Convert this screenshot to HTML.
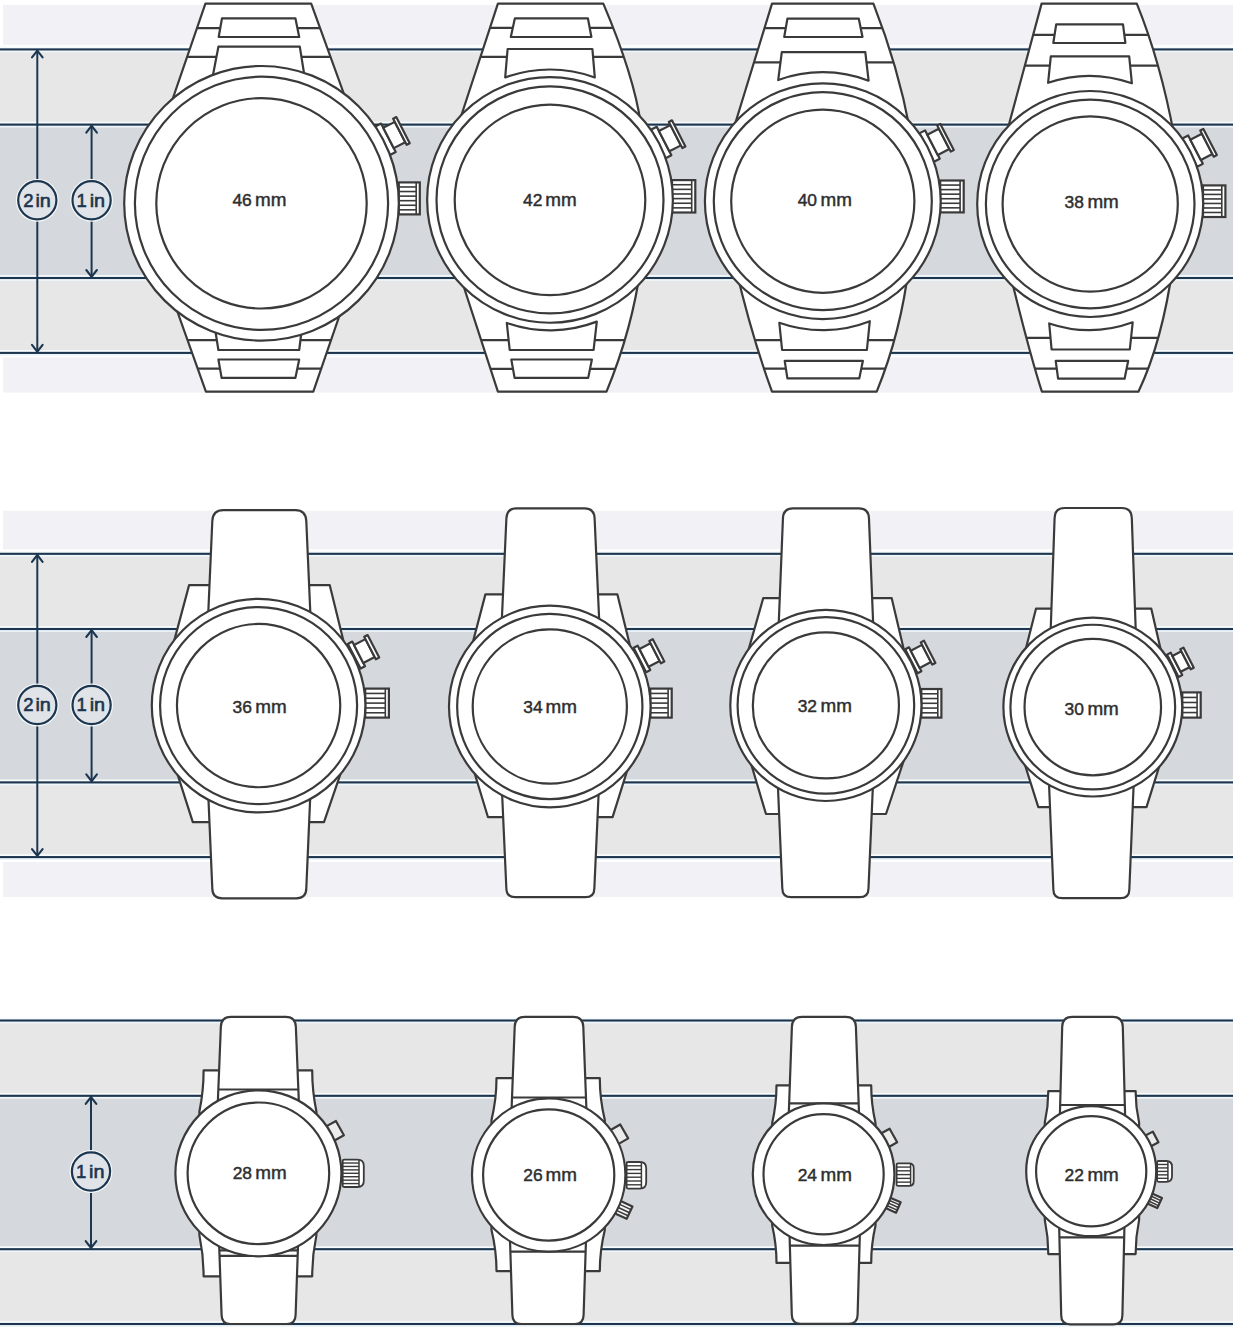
<!DOCTYPE html>
<html><head><meta charset="utf-8"><style>
html,body{margin:0;padding:0;background:#fff;width:1233px;height:1328px;overflow:hidden}
svg{display:block}
</style></head><body>
<svg width="1233" height="1328" viewBox="0 0 1233 1328">
<rect width="1233" height="1328" fill="#fff"/>
<rect x="3" y="4.9" width="1230" height="40" fill="#f2f1f5"/>
<rect x="3" y="357.5" width="1230" height="35.1" fill="#f2f1f5"/>
<rect x="0" y="49.4" width="1233" height="75.2" fill="#e7e7e7"/>
<rect x="0" y="124.6" width="1233" height="153.4" fill="#d5d8dd"/>
<rect x="0" y="278" width="1233" height="74.9" fill="#e7e7e7"/>
<rect x="0" y="46.5" width="1233" height="1.85" fill="#f7fbfc"/>
<rect x="0" y="50.45" width="1233" height="1.85" fill="#eef6fa"/>
<rect x="0" y="48.35" width="1233" height="2.1" fill="#1c3650"/>
<rect x="0" y="121.7" width="1233" height="1.85" fill="#f7fbfc"/>
<rect x="0" y="125.65" width="1233" height="1.85" fill="#eef6fa"/>
<rect x="0" y="123.55" width="1233" height="2.1" fill="#1c3650"/>
<rect x="0" y="275.1" width="1233" height="1.85" fill="#f7fbfc"/>
<rect x="0" y="279.05" width="1233" height="1.85" fill="#eef6fa"/>
<rect x="0" y="276.95" width="1233" height="2.1" fill="#1c3650"/>
<rect x="0" y="350" width="1233" height="1.85" fill="#f7fbfc"/>
<rect x="0" y="353.95" width="1233" height="1.85" fill="#eef6fa"/>
<rect x="0" y="351.85" width="1233" height="2.1" fill="#1c3650"/>
<rect x="3" y="510.8" width="1230" height="38.5" fill="#f2f1f5"/>
<rect x="3" y="862" width="1230" height="35" fill="#f2f1f5"/>
<rect x="0" y="553.8" width="1233" height="75.2" fill="#e7e7e7"/>
<rect x="0" y="629" width="1233" height="153.4" fill="#d5d8dd"/>
<rect x="0" y="782.4" width="1233" height="74.7" fill="#e7e7e7"/>
<rect x="0" y="550.9" width="1233" height="1.85" fill="#f7fbfc"/>
<rect x="0" y="554.85" width="1233" height="1.85" fill="#eef6fa"/>
<rect x="0" y="552.75" width="1233" height="2.1" fill="#1c3650"/>
<rect x="0" y="626.1" width="1233" height="1.85" fill="#f7fbfc"/>
<rect x="0" y="630.05" width="1233" height="1.85" fill="#eef6fa"/>
<rect x="0" y="627.95" width="1233" height="2.1" fill="#1c3650"/>
<rect x="0" y="779.5" width="1233" height="1.85" fill="#f7fbfc"/>
<rect x="0" y="783.45" width="1233" height="1.85" fill="#eef6fa"/>
<rect x="0" y="781.35" width="1233" height="2.1" fill="#1c3650"/>
<rect x="0" y="854.2" width="1233" height="1.85" fill="#f7fbfc"/>
<rect x="0" y="858.15" width="1233" height="1.85" fill="#eef6fa"/>
<rect x="0" y="856.05" width="1233" height="2.1" fill="#1c3650"/>
<rect x="0" y="1020.5" width="1233" height="75.3" fill="#e7e7e7"/>
<rect x="0" y="1095.8" width="1233" height="153.4" fill="#d5d8dd"/>
<rect x="0" y="1249.2" width="1233" height="74.8" fill="#e7e7e7"/>
<rect x="0" y="1017.6" width="1233" height="1.85" fill="#f7fbfc"/>
<rect x="0" y="1021.55" width="1233" height="1.85" fill="#eef6fa"/>
<rect x="0" y="1019.45" width="1233" height="2.1" fill="#1c3650"/>
<rect x="0" y="1092.9" width="1233" height="1.85" fill="#f7fbfc"/>
<rect x="0" y="1096.85" width="1233" height="1.85" fill="#eef6fa"/>
<rect x="0" y="1094.75" width="1233" height="2.1" fill="#1c3650"/>
<rect x="0" y="1246.3" width="1233" height="1.85" fill="#f7fbfc"/>
<rect x="0" y="1250.25" width="1233" height="1.85" fill="#eef6fa"/>
<rect x="0" y="1248.15" width="1233" height="2.1" fill="#1c3650"/>
<rect x="0" y="1321.1" width="1233" height="1.85" fill="#f7fbfc"/>
<rect x="0" y="1325.05" width="1233" height="1.85" fill="#eef6fa"/>
<rect x="0" y="1322.95" width="1233" height="2.1" fill="#1c3650"/>
<line x1="37.3" y1="49.4" x2="37.3" y2="352.9" stroke="#1c3650" stroke-width="2"/>
<polyline points="32,57.4 37.3,50.6 42.6,57.4" fill="none" stroke="#1c3650" stroke-width="2.1" stroke-linecap="round"/>
<polyline points="32,344.9 37.3,351.7 42.6,344.9" fill="none" stroke="#1c3650" stroke-width="2.1" stroke-linecap="round"/>
<circle cx="37.3" cy="200.3" r="21.4" fill="#f8fafb"/>
<circle cx="37.3" cy="200.3" r="19.1" fill="#e0e3e7" stroke="#1c3650" stroke-width="2.2"/>
<text x="23.2" y="206.7" font-family="Liberation Sans" font-size="18.5" fill="#1b3550" stroke="#1b3550" stroke-width="0.6">2</text>
<text x="50.8" y="206.7" text-anchor="end" font-family="Liberation Sans" font-size="18.5" fill="#1b3550" stroke="#1b3550" stroke-width="0.6" textLength="15.4" lengthAdjust="spacingAndGlyphs">in</text>
<line x1="91.6" y1="124.6" x2="91.6" y2="278" stroke="#1c3650" stroke-width="2"/>
<polyline points="86.3,132.6 91.6,125.8 96.9,132.6" fill="none" stroke="#1c3650" stroke-width="2.1" stroke-linecap="round"/>
<polyline points="86.3,270 91.6,276.8 96.9,270" fill="none" stroke="#1c3650" stroke-width="2.1" stroke-linecap="round"/>
<circle cx="91.6" cy="200.3" r="21.4" fill="#f8fafb"/>
<circle cx="91.6" cy="200.3" r="19.1" fill="#e0e3e7" stroke="#1c3650" stroke-width="2.2"/>
<text x="76.6" y="206.7" font-family="Liberation Sans" font-size="18.5" fill="#1b3550" stroke="#1b3550" stroke-width="0.6">1</text>
<text x="105.1" y="206.7" text-anchor="end" font-family="Liberation Sans" font-size="18.5" fill="#1b3550" stroke="#1b3550" stroke-width="0.6" textLength="15.4" lengthAdjust="spacingAndGlyphs">in</text>
<line x1="37.3" y1="553.8" x2="37.3" y2="857.1" stroke="#1c3650" stroke-width="2"/>
<polyline points="32,561.8 37.3,555 42.6,561.8" fill="none" stroke="#1c3650" stroke-width="2.1" stroke-linecap="round"/>
<polyline points="32,849.1 37.3,855.9 42.6,849.1" fill="none" stroke="#1c3650" stroke-width="2.1" stroke-linecap="round"/>
<circle cx="37.3" cy="705" r="21.4" fill="#f8fafb"/>
<circle cx="37.3" cy="705" r="19.1" fill="#e0e3e7" stroke="#1c3650" stroke-width="2.2"/>
<text x="23.2" y="711.4" font-family="Liberation Sans" font-size="18.5" fill="#1b3550" stroke="#1b3550" stroke-width="0.6">2</text>
<text x="50.8" y="711.4" text-anchor="end" font-family="Liberation Sans" font-size="18.5" fill="#1b3550" stroke="#1b3550" stroke-width="0.6" textLength="15.4" lengthAdjust="spacingAndGlyphs">in</text>
<line x1="91.6" y1="629" x2="91.6" y2="782.4" stroke="#1c3650" stroke-width="2"/>
<polyline points="86.3,637 91.6,630.2 96.9,637" fill="none" stroke="#1c3650" stroke-width="2.1" stroke-linecap="round"/>
<polyline points="86.3,774.4 91.6,781.2 96.9,774.4" fill="none" stroke="#1c3650" stroke-width="2.1" stroke-linecap="round"/>
<circle cx="91.6" cy="705" r="21.4" fill="#f8fafb"/>
<circle cx="91.6" cy="705" r="19.1" fill="#e0e3e7" stroke="#1c3650" stroke-width="2.2"/>
<text x="76.6" y="711.4" font-family="Liberation Sans" font-size="18.5" fill="#1b3550" stroke="#1b3550" stroke-width="0.6">1</text>
<text x="105.1" y="711.4" text-anchor="end" font-family="Liberation Sans" font-size="18.5" fill="#1b3550" stroke="#1b3550" stroke-width="0.6" textLength="15.4" lengthAdjust="spacingAndGlyphs">in</text>
<line x1="91" y1="1095.8" x2="91" y2="1249.2" stroke="#1c3650" stroke-width="2"/>
<polyline points="85.7,1103.8 91,1097 96.3,1103.8" fill="none" stroke="#1c3650" stroke-width="2.1" stroke-linecap="round"/>
<polyline points="85.7,1241.2 91,1248 96.3,1241.2" fill="none" stroke="#1c3650" stroke-width="2.1" stroke-linecap="round"/>
<circle cx="91" cy="1171.5" r="21.4" fill="#f8fafb"/>
<circle cx="91" cy="1171.5" r="19.1" fill="#e0e3e7" stroke="#1c3650" stroke-width="2.2"/>
<text x="76" y="1177.9" font-family="Liberation Sans" font-size="18.5" fill="#1b3550" stroke="#1b3550" stroke-width="0.6">1</text>
<text x="104.5" y="1177.9" text-anchor="end" font-family="Liberation Sans" font-size="18.5" fill="#1b3550" stroke="#1b3550" stroke-width="0.6" textLength="15.4" lengthAdjust="spacingAndGlyphs">in</text>
<clipPath id="cp1"><path d="M205.4,3.6 L311.2,3.6 L357,130 L162,130 Z"/></clipPath>
<path d="M205.4,3.6 L311.2,3.6 L357,130 L162,130 Z" fill="#fff" stroke="#3a3a3a" stroke-width="2.2" stroke-linejoin="round"/>
<g clip-path="url(#cp1)"><line x1="0" y1="28.1" x2="1233" y2="28.1" stroke="#3a3a3a" stroke-width="2.2"/><line x1="0" y1="56.8" x2="1233" y2="56.8" stroke="#3a3a3a" stroke-width="2.2"/></g>
<path d="M222,18.3 L295.4,18.3 L299.2,37 L218.7,37 Z" fill="#fff" stroke="#3a3a3a" stroke-width="2.2" stroke-linejoin="round"/>
<path d="M218.4,46.7 L299.8,46.7 L306.7,90 L210.1,90 Z" fill="#fff" stroke="#3a3a3a" stroke-width="2.2" stroke-linejoin="round"/>
<clipPath id="cp2"><path d="M205.9,391.7 L313.3,391.7 L351.7,280 L166.1,280 Z"/></clipPath>
<path d="M205.9,391.7 L313.3,391.7 L351.7,280 L166.1,280 Z" fill="#fff" stroke="#3a3a3a" stroke-width="2.2" stroke-linejoin="round"/>
<g clip-path="url(#cp2)"><line x1="0" y1="340.1" x2="1233" y2="340.1" stroke="#3a3a3a" stroke-width="2.2"/><line x1="0" y1="368.6" x2="1233" y2="368.6" stroke="#3a3a3a" stroke-width="2.2"/></g>
<path d="M212.8,315 L303.6,315 L299.2,350 L218.4,350 Z" fill="#fff" stroke="#3a3a3a" stroke-width="2.2" stroke-linejoin="round"/>
<path d="M218.4,359.5 L299.2,359.5 L295.4,377.9 L221.6,377.9 Z" fill="#fff" stroke="#3a3a3a" stroke-width="2.2" stroke-linejoin="round"/>
<path d="M375.28,126.57 L381.06,123.59 L395.73,152.02 L389.96,155 Z" fill="#fff" stroke="#3a3a3a" stroke-width="2.2" stroke-linejoin="round"/>
<path d="M383.26,127.85 L394.81,121.89 L405.27,142.15 L393.71,148.11 Z" fill="#fff" stroke="#3a3a3a" stroke-width="2.2" stroke-linejoin="round"/>
<path d="M393.16,118.69 L396.27,117.09 L409.75,143.21 L406.64,144.82 Z" fill="#fff" stroke="#3a3a3a" stroke-width="2.2" stroke-linejoin="round"/>
<rect x="398.8" y="182.4" width="21" height="32" fill="#fff" stroke="#3a3a3a" stroke-width="2.2"/>
<line x1="416.2" y1="182.4" x2="416.2" y2="214.4" stroke="#3a3a3a" stroke-width="1.6"/>
<line x1="398.8" y1="186.97" x2="416.2" y2="186.97" stroke="#3a3a3a" stroke-width="1.6"/>
<line x1="398.8" y1="191.54" x2="416.2" y2="191.54" stroke="#3a3a3a" stroke-width="1.6"/>
<line x1="398.8" y1="196.11" x2="416.2" y2="196.11" stroke="#3a3a3a" stroke-width="1.6"/>
<line x1="398.8" y1="200.69" x2="416.2" y2="200.69" stroke="#3a3a3a" stroke-width="1.6"/>
<line x1="398.8" y1="205.26" x2="416.2" y2="205.26" stroke="#3a3a3a" stroke-width="1.6"/>
<line x1="398.8" y1="209.83" x2="416.2" y2="209.83" stroke="#3a3a3a" stroke-width="1.6"/>
<circle cx="261.5" cy="203.3" r="137.3" fill="#fff" stroke="#3a3a3a" stroke-width="2.2"/>
<circle cx="261.5" cy="203.3" r="126.6" fill="#fff" stroke="#3a3a3a" stroke-width="2.2"/>
<circle cx="261.5" cy="203.3" r="105.2" fill="#fff" stroke="#3a3a3a" stroke-width="2.2"/>
<text x="232.4" y="205.7" font-family="Liberation Sans" font-size="17.4" fill="#2e2e2e" stroke="#2e2e2e" stroke-width="0.45">46</text>
<text x="286.4" y="205.7" text-anchor="end" font-family="Liberation Sans" font-size="18.2" fill="#2e2e2e" stroke="#2e2e2e" stroke-width="0.45" textLength="31.4" lengthAdjust="spacingAndGlyphs">mm</text>
<clipPath id="cp3"><path d="M497.9,3.6 L603.3,3.6 Q634,75.7 641,125 L458.2,125 Z"/></clipPath>
<path d="M497.9,3.6 L603.3,3.6 Q634,75.7 641,125 L458.2,125 Z" fill="#fff" stroke="#3a3a3a" stroke-width="2.2" stroke-linejoin="round"/>
<g clip-path="url(#cp3)"><line x1="0" y1="27.9" x2="1233" y2="27.9" stroke="#3a3a3a" stroke-width="2.2"/><line x1="0" y1="56.8" x2="1233" y2="56.8" stroke="#3a3a3a" stroke-width="2.2"/></g>
<path d="M514.9,18.3 L587.9,18.3 L591.4,37 L510.8,37 Z" fill="#fff" stroke="#3a3a3a" stroke-width="2.2" stroke-linejoin="round"/>
<path d="M507.6,49 L592.4,49 L594.8,77.44 A130.4,130.4 0 0 0 505.2,77.44 Z" fill="#fff" stroke="#3a3a3a" stroke-width="2.2" stroke-linejoin="round"/>
<clipPath id="cp4"><path d="M497.9,391.7 L606.5,391.7 Q632.3,329.2 641,265 L456.7,265 Z"/></clipPath>
<path d="M497.9,391.7 L606.5,391.7 Q632.3,329.2 641,265 L456.7,265 Z" fill="#fff" stroke="#3a3a3a" stroke-width="2.2" stroke-linejoin="round"/>
<g clip-path="url(#cp4)"><line x1="0" y1="340.1" x2="1233" y2="340.1" stroke="#3a3a3a" stroke-width="2.2"/><line x1="0" y1="368.9" x2="1233" y2="368.9" stroke="#3a3a3a" stroke-width="2.2"/></g>
<path d="M506.8,322.94 A130.4,130.4 0 0 0 596.8,321.61 L593.6,350 L509.7,350 Z" fill="#fff" stroke="#3a3a3a" stroke-width="2.2" stroke-linejoin="round"/>
<path d="M511.3,359.5 L591.9,359.5 L588.2,377.9 L514.6,377.9 Z" fill="#fff" stroke="#3a3a3a" stroke-width="2.2" stroke-linejoin="round"/>
<path d="M650.94,129.8 L656.72,126.81 L671.39,155.25 L665.62,158.23 Z" fill="#fff" stroke="#3a3a3a" stroke-width="2.2" stroke-linejoin="round"/>
<path d="M658.92,131.08 L670.47,125.12 L680.93,145.38 L669.37,151.34 Z" fill="#fff" stroke="#3a3a3a" stroke-width="2.2" stroke-linejoin="round"/>
<path d="M668.82,121.92 L671.93,120.31 L685.41,146.44 L682.3,148.04 Z" fill="#fff" stroke="#3a3a3a" stroke-width="2.2" stroke-linejoin="round"/>
<rect x="672" y="180.1" width="23.3" height="32.4" fill="#fff" stroke="#3a3a3a" stroke-width="2.2"/>
<line x1="691.7" y1="180.1" x2="691.7" y2="212.5" stroke="#3a3a3a" stroke-width="1.6"/>
<line x1="672" y1="184.73" x2="691.7" y2="184.73" stroke="#3a3a3a" stroke-width="1.6"/>
<line x1="672" y1="189.36" x2="691.7" y2="189.36" stroke="#3a3a3a" stroke-width="1.6"/>
<line x1="672" y1="193.99" x2="691.7" y2="193.99" stroke="#3a3a3a" stroke-width="1.6"/>
<line x1="672" y1="198.61" x2="691.7" y2="198.61" stroke="#3a3a3a" stroke-width="1.6"/>
<line x1="672" y1="203.24" x2="691.7" y2="203.24" stroke="#3a3a3a" stroke-width="1.6"/>
<line x1="672" y1="207.87" x2="691.7" y2="207.87" stroke="#3a3a3a" stroke-width="1.6"/>
<circle cx="550" cy="199.9" r="122.85" fill="#fff" stroke="#3a3a3a" stroke-width="2.2"/>
<circle cx="550" cy="199.9" r="113.5" fill="#fff" stroke="#3a3a3a" stroke-width="2.2"/>
<circle cx="550" cy="199.9" r="95.3" fill="#fff" stroke="#3a3a3a" stroke-width="2.2"/>
<text x="523" y="205.7" font-family="Liberation Sans" font-size="17.4" fill="#2e2e2e" stroke="#2e2e2e" stroke-width="0.45">42</text>
<text x="576.7" y="205.7" text-anchor="end" font-family="Liberation Sans" font-size="18.2" fill="#2e2e2e" stroke="#2e2e2e" stroke-width="0.45" textLength="31.4" lengthAdjust="spacingAndGlyphs">mm</text>
<clipPath id="cp5"><path d="M772,3.6 L873.4,3.6 Q898.3,67.2 910,130 L733.2,130 Z"/></clipPath>
<path d="M772,3.6 L873.4,3.6 Q898.3,67.2 910,130 L733.2,130 Z" fill="#fff" stroke="#3a3a3a" stroke-width="2.2" stroke-linejoin="round"/>
<g clip-path="url(#cp5)"><line x1="0" y1="28.1" x2="1233" y2="28.1" stroke="#3a3a3a" stroke-width="2.2"/><line x1="0" y1="62.4" x2="1233" y2="62.4" stroke="#3a3a3a" stroke-width="2.2"/></g>
<path d="M787.4,18.7 L858.8,18.7 L862.5,37 L784.2,37 Z" fill="#fff" stroke="#3a3a3a" stroke-width="2.2" stroke-linejoin="round"/>
<path d="M781.8,52.2 L865.3,52.2 L868.6,80.72 A129,129 0 0 0 778.2,80.05 Z" fill="#fff" stroke="#3a3a3a" stroke-width="2.2" stroke-linejoin="round"/>
<clipPath id="cp6"><path d="M772,391.7 L876.7,391.7 Q901.1,331.7 909,265 L735,265 Q751.5,335.7 772,391.7 Z"/></clipPath>
<path d="M772,391.7 L876.7,391.7 Q901.1,331.7 909,265 L735,265 Q751.5,335.7 772,391.7 Z" fill="#fff" stroke="#3a3a3a" stroke-width="2.2" stroke-linejoin="round"/>
<g clip-path="url(#cp6)"><line x1="0" y1="340.1" x2="1233" y2="340.1" stroke="#3a3a3a" stroke-width="2.2"/><line x1="0" y1="368.6" x2="1233" y2="368.6" stroke="#3a3a3a" stroke-width="2.2"/></g>
<path d="M779.3,322.75 A129,129 0 0 0 869.8,321.22 L866.9,350 L782.1,350 Z" fill="#fff" stroke="#3a3a3a" stroke-width="2.2" stroke-linejoin="round"/>
<path d="M784.7,360.8 L862.9,360.8 L859.3,378.4 L787.4,378.4 Z" fill="#fff" stroke="#3a3a3a" stroke-width="2.2" stroke-linejoin="round"/>
<path d="M919.34,133.37 L925.12,130.38 L939.79,158.82 L934.02,161.8 Z" fill="#fff" stroke="#3a3a3a" stroke-width="2.2" stroke-linejoin="round"/>
<path d="M927.32,134.65 L938.87,128.69 L949.33,148.95 L937.78,154.91 Z" fill="#fff" stroke="#3a3a3a" stroke-width="2.2" stroke-linejoin="round"/>
<path d="M937.22,125.49 L940.33,123.88 L953.81,150.01 L950.7,151.61 Z" fill="#fff" stroke="#3a3a3a" stroke-width="2.2" stroke-linejoin="round"/>
<rect x="940.2" y="180.5" width="23.5" height="31.9" fill="#fff" stroke="#3a3a3a" stroke-width="2.2"/>
<line x1="960.1" y1="180.5" x2="960.1" y2="212.4" stroke="#3a3a3a" stroke-width="1.6"/>
<line x1="940.2" y1="185.06" x2="960.1" y2="185.06" stroke="#3a3a3a" stroke-width="1.6"/>
<line x1="940.2" y1="189.61" x2="960.1" y2="189.61" stroke="#3a3a3a" stroke-width="1.6"/>
<line x1="940.2" y1="194.17" x2="960.1" y2="194.17" stroke="#3a3a3a" stroke-width="1.6"/>
<line x1="940.2" y1="198.73" x2="960.1" y2="198.73" stroke="#3a3a3a" stroke-width="1.6"/>
<line x1="940.2" y1="203.29" x2="960.1" y2="203.29" stroke="#3a3a3a" stroke-width="1.6"/>
<line x1="940.2" y1="207.84" x2="960.1" y2="207.84" stroke="#3a3a3a" stroke-width="1.6"/>
<circle cx="822.8" cy="201.2" r="117.9" fill="#fff" stroke="#3a3a3a" stroke-width="2.2"/>
<circle cx="822.8" cy="201.2" r="109" fill="#fff" stroke="#3a3a3a" stroke-width="2.2"/>
<circle cx="822.8" cy="201.2" r="91.6" fill="#fff" stroke="#3a3a3a" stroke-width="2.2"/>
<text x="797.7" y="205.8" font-family="Liberation Sans" font-size="17.4" fill="#2e2e2e" stroke="#2e2e2e" stroke-width="0.45">40</text>
<text x="852" y="205.8" text-anchor="end" font-family="Liberation Sans" font-size="18.2" fill="#2e2e2e" stroke="#2e2e2e" stroke-width="0.45" textLength="31.4" lengthAdjust="spacingAndGlyphs">mm</text>
<clipPath id="cp7"><path d="M1041.6,3.6 L1136.8,3.6 Q1160.5,62 1174,135 L1006.1,135 Z"/></clipPath>
<path d="M1041.6,3.6 L1136.8,3.6 Q1160.5,62 1174,135 L1006.1,135 Z" fill="#fff" stroke="#3a3a3a" stroke-width="2.2" stroke-linejoin="round"/>
<g clip-path="url(#cp7)"><line x1="0" y1="34.9" x2="1233" y2="34.9" stroke="#3a3a3a" stroke-width="2.2"/><line x1="0" y1="65.7" x2="1233" y2="65.7" stroke="#3a3a3a" stroke-width="2.2"/></g>
<path d="M1056.2,24.3 L1123,24.3 L1125.4,43 L1053.3,43 Z" fill="#fff" stroke="#3a3a3a" stroke-width="2.2" stroke-linejoin="round"/>
<path d="M1050.8,56.4 L1129.2,56.4 L1131.9,83.3 A128,128 0 0 0 1048.1,82.81 Z" fill="#fff" stroke="#3a3a3a" stroke-width="2.2" stroke-linejoin="round"/>
<clipPath id="cp8"><path d="M1041.9,391.7 L1138.4,391.7 Q1162.3,341.7 1173,265 L1008,265 Q1029,351.7 1041.9,391.7 Z"/></clipPath>
<path d="M1041.9,391.7 L1138.4,391.7 Q1162.3,341.7 1173,265 L1008,265 Q1029,351.7 1041.9,391.7 Z" fill="#fff" stroke="#3a3a3a" stroke-width="2.2" stroke-linejoin="round"/>
<g clip-path="url(#cp8)"><line x1="0" y1="337.8" x2="1233" y2="337.8" stroke="#3a3a3a" stroke-width="2.2"/><line x1="0" y1="368.6" x2="1233" y2="368.6" stroke="#3a3a3a" stroke-width="2.2"/></g>
<path d="M1049.2,323.45 A126,126 0 0 0 1132.7,322.29 L1129.8,349.5 L1051.6,349.5 Z" fill="#fff" stroke="#3a3a3a" stroke-width="2.2" stroke-linejoin="round"/>
<path d="M1055.7,360.8 L1128.2,360.8 L1124.6,378.7 L1058.1,378.7 Z" fill="#fff" stroke="#3a3a3a" stroke-width="2.2" stroke-linejoin="round"/>
<path d="M1182.39,138.41 L1188.16,135.43 L1202.84,163.87 L1197.06,166.85 Z" fill="#fff" stroke="#3a3a3a" stroke-width="2.2" stroke-linejoin="round"/>
<path d="M1190.36,139.7 L1201.92,133.74 L1212.37,154 L1200.82,159.96 Z" fill="#fff" stroke="#3a3a3a" stroke-width="2.2" stroke-linejoin="round"/>
<path d="M1200.27,130.54 L1203.38,128.93 L1216.86,155.06 L1213.75,156.66 Z" fill="#fff" stroke="#3a3a3a" stroke-width="2.2" stroke-linejoin="round"/>
<rect x="1203" y="185.4" width="22.4" height="31.6" fill="#fff" stroke="#3a3a3a" stroke-width="2.2"/>
<line x1="1221.8" y1="185.4" x2="1221.8" y2="217" stroke="#3a3a3a" stroke-width="1.6"/>
<line x1="1203" y1="189.91" x2="1221.8" y2="189.91" stroke="#3a3a3a" stroke-width="1.6"/>
<line x1="1203" y1="194.43" x2="1221.8" y2="194.43" stroke="#3a3a3a" stroke-width="1.6"/>
<line x1="1203" y1="198.94" x2="1221.8" y2="198.94" stroke="#3a3a3a" stroke-width="1.6"/>
<line x1="1203" y1="203.46" x2="1221.8" y2="203.46" stroke="#3a3a3a" stroke-width="1.6"/>
<line x1="1203" y1="207.97" x2="1221.8" y2="207.97" stroke="#3a3a3a" stroke-width="1.6"/>
<line x1="1203" y1="212.49" x2="1221.8" y2="212.49" stroke="#3a3a3a" stroke-width="1.6"/>
<circle cx="1090.2" cy="204" r="113" fill="#fff" stroke="#3a3a3a" stroke-width="2.2"/>
<circle cx="1090.2" cy="204" r="104.3" fill="#fff" stroke="#3a3a3a" stroke-width="2.2"/>
<circle cx="1090.2" cy="204" r="87.6" fill="#fff" stroke="#3a3a3a" stroke-width="2.2"/>
<text x="1064.6" y="207.8" font-family="Liberation Sans" font-size="17.4" fill="#2e2e2e" stroke="#2e2e2e" stroke-width="0.45">38</text>
<text x="1118.8" y="207.8" text-anchor="end" font-family="Liberation Sans" font-size="18.2" fill="#2e2e2e" stroke="#2e2e2e" stroke-width="0.45" textLength="31.4" lengthAdjust="spacingAndGlyphs">mm</text>
<path d="M189.1,585.1 L329.7,585.1 L359.34,705.6 L363.84,705.6 L324,822.1 L192.8,822.1 L155.52,705.6 L156.81,705.6 Z" fill="#fff" stroke="#3a3a3a" stroke-width="2.2" stroke-linejoin="round"/>
<path d="M207.79,623.8 L212.3,521.2 Q212.78,510.2 223.3,510.2 L295.3,510.2 Q305.82,510.2 306.3,521.2 L310.81,623.8 Z" fill="#fff" stroke="#3a3a3a" stroke-width="2.2" stroke-linejoin="round"/>
<path d="M207.96,787.4 L212.3,888.3 Q212.3,898.3 222.3,898.3 L296.3,898.3 Q306.3,898.3 306.3,888.3 L310.64,787.4 Z" fill="#fff" stroke="#3a3a3a" stroke-width="2.2" stroke-linejoin="round"/>
<path d="M347.84,643.9 L352.28,641.6 L365.03,666.31 L360.59,668.6 Z" fill="#fff" stroke="#3a3a3a" stroke-width="2.2" stroke-linejoin="round"/>
<path d="M354.03,644.98 L365.4,639.11 L374.66,657.06 L363.29,662.93 Z" fill="#fff" stroke="#3a3a3a" stroke-width="2.2" stroke-linejoin="round"/>
<path d="M364.23,636.84 L367.61,635.1 L379.21,657.58 L375.83,659.33 Z" fill="#fff" stroke="#3a3a3a" stroke-width="2.2" stroke-linejoin="round"/>
<rect x="365.2" y="688.6" width="23.7" height="29" fill="#fff" stroke="#3a3a3a" stroke-width="2.2"/>
<line x1="385.3" y1="688.6" x2="385.3" y2="717.6" stroke="#3a3a3a" stroke-width="1.6"/>
<line x1="365.2" y1="693.43" x2="385.3" y2="693.43" stroke="#3a3a3a" stroke-width="1.6"/>
<line x1="365.2" y1="698.27" x2="385.3" y2="698.27" stroke="#3a3a3a" stroke-width="1.6"/>
<line x1="365.2" y1="703.1" x2="385.3" y2="703.1" stroke="#3a3a3a" stroke-width="1.6"/>
<line x1="365.2" y1="707.93" x2="385.3" y2="707.93" stroke="#3a3a3a" stroke-width="1.6"/>
<line x1="365.2" y1="712.77" x2="385.3" y2="712.77" stroke="#3a3a3a" stroke-width="1.6"/>
<circle cx="258.6" cy="705.6" r="106.8" fill="#fff" stroke="#3a3a3a" stroke-width="2.2"/>
<circle cx="258.6" cy="705.6" r="98.5" fill="#fff" stroke="#3a3a3a" stroke-width="2.2"/>
<circle cx="258.6" cy="705.6" r="81.65" fill="#fff" stroke="#3a3a3a" stroke-width="2.2"/>
<text x="232.6" y="713.4" font-family="Liberation Sans" font-size="17.4" fill="#2e2e2e" stroke="#2e2e2e" stroke-width="0.45">36</text>
<text x="286.6" y="713.4" text-anchor="end" font-family="Liberation Sans" font-size="18.2" fill="#2e2e2e" stroke="#2e2e2e" stroke-width="0.45" textLength="31.4" lengthAdjust="spacingAndGlyphs">mm</text>
<path d="M485.4,594.4 L617.4,594.4 L644.98,706.5 L647.25,706.5 L612.6,817.2 L488,817.2 L454.35,706.5 L456.03,706.5 Z" fill="#fff" stroke="#3a3a3a" stroke-width="2.2" stroke-linejoin="round"/>
<path d="M501.34,630.7 L506.4,518.3 Q506.85,508.3 516.4,508.3 L584.6,508.3 Q594.15,508.3 594.6,518.3 L599.66,630.7 Z" fill="#fff" stroke="#3a3a3a" stroke-width="2.2" stroke-linejoin="round"/>
<path d="M501.58,782.3 L506.35,888.2 Q506.35,897.2 515.35,897.2 L585.35,897.2 Q594.35,897.2 594.35,888.2 L599.12,782.3 Z" fill="#fff" stroke="#3a3a3a" stroke-width="2.2" stroke-linejoin="round"/>
<path d="M633.62,647.82 L637.71,645.71 L650.28,670.06 L646.19,672.17 Z" fill="#fff" stroke="#3a3a3a" stroke-width="2.2" stroke-linejoin="round"/>
<path d="M639.45,649.09 L650.56,643.35 L659.64,660.95 L648.53,666.68 Z" fill="#fff" stroke="#3a3a3a" stroke-width="2.2" stroke-linejoin="round"/>
<path d="M649.32,640.95 L652.79,639.16 L664.35,661.56 L660.88,663.35 Z" fill="#fff" stroke="#3a3a3a" stroke-width="2.2" stroke-linejoin="round"/>
<rect x="650.3" y="688.6" width="21.4" height="29" fill="#fff" stroke="#3a3a3a" stroke-width="2.2"/>
<line x1="668.1" y1="688.6" x2="668.1" y2="717.6" stroke="#3a3a3a" stroke-width="1.6"/>
<line x1="650.3" y1="693.43" x2="668.1" y2="693.43" stroke="#3a3a3a" stroke-width="1.6"/>
<line x1="650.3" y1="698.27" x2="668.1" y2="698.27" stroke="#3a3a3a" stroke-width="1.6"/>
<line x1="650.3" y1="703.1" x2="668.1" y2="703.1" stroke="#3a3a3a" stroke-width="1.6"/>
<line x1="650.3" y1="707.93" x2="668.1" y2="707.93" stroke="#3a3a3a" stroke-width="1.6"/>
<line x1="650.3" y1="712.77" x2="668.1" y2="712.77" stroke="#3a3a3a" stroke-width="1.6"/>
<circle cx="549.8" cy="706.5" r="100.8" fill="#fff" stroke="#3a3a3a" stroke-width="2.2"/>
<circle cx="549.8" cy="706.5" r="92.65" fill="#fff" stroke="#3a3a3a" stroke-width="2.2"/>
<circle cx="549.8" cy="706.5" r="77.1" fill="#fff" stroke="#3a3a3a" stroke-width="2.2"/>
<text x="523.3" y="713.4" font-family="Liberation Sans" font-size="17.4" fill="#2e2e2e" stroke="#2e2e2e" stroke-width="0.45">34</text>
<text x="577" y="713.4" text-anchor="end" font-family="Liberation Sans" font-size="18.2" fill="#2e2e2e" stroke="#2e2e2e" stroke-width="0.45" textLength="31.4" lengthAdjust="spacingAndGlyphs">mm</text>
<path d="M763.2,598.2 L891.7,598.2 L917,705.4 L922.06,705.4 L886,814 L766,814 L733.75,705.4 L732.65,705.4 Z" fill="#fff" stroke="#3a3a3a" stroke-width="2.2" stroke-linejoin="round"/>
<path d="M778.29,634.8 L782.95,518.3 Q783.35,508.3 792.95,508.3 L858.95,508.3 Q868.55,508.3 868.95,518.3 L873.61,634.8 Z" fill="#fff" stroke="#3a3a3a" stroke-width="2.2" stroke-linejoin="round"/>
<path d="M777.48,776 L782.3,888.2 Q782.3,897.2 791.3,897.2 L859.5,897.2 Q868.5,897.2 868.5,888.2 L873.32,776 Z" fill="#fff" stroke="#3a3a3a" stroke-width="2.2" stroke-linejoin="round"/>
<path d="M905.19,649.28 L909.01,647.31 L921.4,671.3 L917.58,673.27 Z" fill="#fff" stroke="#3a3a3a" stroke-width="2.2" stroke-linejoin="round"/>
<path d="M910.76,650.69 L922.04,644.86 L930.94,662.1 L919.65,667.93 Z" fill="#fff" stroke="#3a3a3a" stroke-width="2.2" stroke-linejoin="round"/>
<path d="M920.76,642.37 L923.96,640.72 L935.42,662.94 L932.22,664.59 Z" fill="#fff" stroke="#3a3a3a" stroke-width="2.2" stroke-linejoin="round"/>
<rect x="921.3" y="689" width="20.1" height="28.6" fill="#fff" stroke="#3a3a3a" stroke-width="2.2"/>
<line x1="937.8" y1="689" x2="937.8" y2="717.6" stroke="#3a3a3a" stroke-width="1.6"/>
<line x1="921.3" y1="693.77" x2="937.8" y2="693.77" stroke="#3a3a3a" stroke-width="1.6"/>
<line x1="921.3" y1="698.53" x2="937.8" y2="698.53" stroke="#3a3a3a" stroke-width="1.6"/>
<line x1="921.3" y1="703.3" x2="937.8" y2="703.3" stroke="#3a3a3a" stroke-width="1.6"/>
<line x1="921.3" y1="708.07" x2="937.8" y2="708.07" stroke="#3a3a3a" stroke-width="1.6"/>
<line x1="921.3" y1="712.83" x2="937.8" y2="712.83" stroke="#3a3a3a" stroke-width="1.6"/>
<circle cx="825.9" cy="705.4" r="95.6" fill="#fff" stroke="#3a3a3a" stroke-width="2.2"/>
<circle cx="825.9" cy="705.4" r="88.3" fill="#fff" stroke="#3a3a3a" stroke-width="2.2"/>
<circle cx="825.9" cy="705.4" r="73.05" fill="#fff" stroke="#3a3a3a" stroke-width="2.2"/>
<text x="797.7" y="712.3" font-family="Liberation Sans" font-size="17.4" fill="#2e2e2e" stroke="#2e2e2e" stroke-width="0.45">32</text>
<text x="852" y="712.3" text-anchor="end" font-family="Liberation Sans" font-size="18.2" fill="#2e2e2e" stroke="#2e2e2e" stroke-width="0.45" textLength="31.4" lengthAdjust="spacingAndGlyphs">mm</text>
<path d="M1036,608.7 L1151.3,608.7 L1173.93,707.1 L1177.73,707.1 L1146.5,807.2 L1038.3,807.2 L1006.77,707.1 L1011.01,707.1 Z" fill="#fff" stroke="#3a3a3a" stroke-width="2.2" stroke-linejoin="round"/>
<path d="M1050.24,642.7 L1054.6,518 Q1054.95,508 1064.6,508 L1121.8,508 Q1131.45,508 1131.8,518 L1136.16,642.7 Z" fill="#fff" stroke="#3a3a3a" stroke-width="2.2" stroke-linejoin="round"/>
<path d="M1048.52,771.5 L1053.35,889.2 Q1053.35,898.2 1062.35,898.2 L1120.35,898.2 Q1129.35,898.2 1129.35,889.2 L1134.18,771.5 Z" fill="#fff" stroke="#3a3a3a" stroke-width="2.2" stroke-linejoin="round"/>
<path d="M1167,654.62 L1170.73,652.7 L1182.29,675.09 L1178.55,677.02 Z" fill="#fff" stroke="#3a3a3a" stroke-width="2.2" stroke-linejoin="round"/>
<path d="M1172.43,655.99 L1181.4,651.35 L1189.56,667.17 L1180.59,671.8 Z" fill="#fff" stroke="#3a3a3a" stroke-width="2.2" stroke-linejoin="round"/>
<path d="M1180.3,649.22 L1183.41,647.62 L1193.78,667.7 L1190.67,669.3 Z" fill="#fff" stroke="#3a3a3a" stroke-width="2.2" stroke-linejoin="round"/>
<rect x="1182.3" y="692.4" width="18.4" height="25.2" fill="#fff" stroke="#3a3a3a" stroke-width="2.2"/>
<line x1="1197.1" y1="692.4" x2="1197.1" y2="717.6" stroke="#3a3a3a" stroke-width="1.6"/>
<line x1="1182.3" y1="697.44" x2="1197.1" y2="697.44" stroke="#3a3a3a" stroke-width="1.6"/>
<line x1="1182.3" y1="702.48" x2="1197.1" y2="702.48" stroke="#3a3a3a" stroke-width="1.6"/>
<line x1="1182.3" y1="707.52" x2="1197.1" y2="707.52" stroke="#3a3a3a" stroke-width="1.6"/>
<line x1="1182.3" y1="712.56" x2="1197.1" y2="712.56" stroke="#3a3a3a" stroke-width="1.6"/>
<circle cx="1092.8" cy="707.1" r="89.4" fill="#fff" stroke="#3a3a3a" stroke-width="2.2"/>
<circle cx="1092.8" cy="707.1" r="82.35" fill="#fff" stroke="#3a3a3a" stroke-width="2.2"/>
<circle cx="1092.8" cy="707.1" r="68.25" fill="#fff" stroke="#3a3a3a" stroke-width="2.2"/>
<text x="1064.6" y="714.8" font-family="Liberation Sans" font-size="17.4" fill="#2e2e2e" stroke="#2e2e2e" stroke-width="0.45">30</text>
<text x="1118.8" y="714.8" text-anchor="end" font-family="Liberation Sans" font-size="18.2" fill="#2e2e2e" stroke="#2e2e2e" stroke-width="0.45" textLength="31.4" lengthAdjust="spacingAndGlyphs">mm</text>
<path d="M203.6,1070.4 L312.2,1070.4 Q312.2,1090.95 316.4,1111.5 L316.4,1235.1 Q312.2,1255.7 312.2,1276.3 L203.6,1276.3 Q203.6,1255.7 199.4,1235.1 L199.4,1111.5 Q203.6,1090.95 203.6,1070.4 Z" fill="#fff" stroke="#3a3a3a" stroke-width="2.2" stroke-linejoin="round"/>
<clipPath id="cp9"><path d="M217.83,1102.3 L220.85,1026.8 Q221.25,1016.8 230.85,1016.8 L285.85,1016.8 Q295.45,1016.8 295.85,1026.8 L298.87,1102.3 Z"/></clipPath>
<path d="M217.83,1102.3 L220.85,1026.8 Q221.25,1016.8 230.85,1016.8 L285.85,1016.8 Q295.45,1016.8 295.85,1026.8 L298.87,1102.3 Z" fill="#fff" stroke="#3a3a3a" stroke-width="2.2" stroke-linejoin="round"/>
<g clip-path="url(#cp9)"><line x1="0" y1="1089.5" x2="1233" y2="1089.5" stroke="#3a3a3a" stroke-width="2.2"/></g>
<clipPath id="cp10"><path d="M219.13,1244.3 L221.6,1315 Q221.6,1324 230.6,1324 L286.6,1324 Q295.6,1324 295.6,1315 L298.07,1244.3 Z"/></clipPath>
<path d="M219.13,1244.3 L221.6,1315 Q221.6,1324 230.6,1324 L286.6,1324 Q295.6,1324 295.6,1315 L298.07,1244.3 Z" fill="#fff" stroke="#3a3a3a" stroke-width="2.2" stroke-linejoin="round"/>
<g clip-path="url(#cp10)"><line x1="0" y1="1250.4" x2="1233" y2="1250.4" stroke="#3a3a3a" stroke-width="2.2"/><line x1="0" y1="1255.9" x2="1233" y2="1255.9" stroke="#3a3a3a" stroke-width="2.2"/></g>
<path d="M325.27,1126.86 L335.94,1120.94 L343.89,1135.29 L333.22,1141.2 Z" fill="#ececec" stroke="#3a3a3a" stroke-width="2.2" stroke-linejoin="round"/>
<path d="M342.7,1161.1 Q342.7,1159.6 344.2,1159.6 L357.5,1159.6 Q363.8,1159.6 363.8,1165.9 L363.8,1180.7 Q363.8,1187 357.5,1187 L344.2,1187 Q342.7,1187 342.7,1185.5 Z" fill="#fff" stroke="#3a3a3a" stroke-width="1.8" stroke-linejoin="round"/>
<line x1="359" y1="1160.1" x2="359" y2="1186.5" stroke="#3a3a3a" stroke-width="1.5"/>
<line x1="342.7" y1="1163.02" x2="359" y2="1163.02" stroke="#3a3a3a" stroke-width="1.4"/>
<line x1="342.7" y1="1166.45" x2="359" y2="1166.45" stroke="#3a3a3a" stroke-width="1.4"/>
<line x1="342.7" y1="1169.88" x2="359" y2="1169.88" stroke="#3a3a3a" stroke-width="1.4"/>
<line x1="342.7" y1="1173.3" x2="359" y2="1173.3" stroke="#3a3a3a" stroke-width="1.4"/>
<line x1="342.7" y1="1176.72" x2="359" y2="1176.72" stroke="#3a3a3a" stroke-width="1.4"/>
<line x1="342.7" y1="1180.15" x2="359" y2="1180.15" stroke="#3a3a3a" stroke-width="1.4"/>
<line x1="342.7" y1="1183.58" x2="359" y2="1183.58" stroke="#3a3a3a" stroke-width="1.4"/>
<circle cx="258.4" cy="1173.3" r="83" fill="#fff" stroke="#3a3a3a" stroke-width="2.2"/>
<circle cx="258.4" cy="1173.3" r="70.8" fill="#fff" stroke="#3a3a3a" stroke-width="2.2"/>
<text x="232.7" y="1179.3" font-family="Liberation Sans" font-size="17.4" fill="#2e2e2e" stroke="#2e2e2e" stroke-width="0.45">28</text>
<text x="286.6" y="1179.3" text-anchor="end" font-family="Liberation Sans" font-size="18.2" fill="#2e2e2e" stroke="#2e2e2e" stroke-width="0.45" textLength="31.4" lengthAdjust="spacingAndGlyphs">mm</text>
<path d="M496.5,1078.2 L599.8,1078.2 Q599.8,1099.1 604.8,1120 L604.8,1230 Q599.8,1250.55 599.8,1271.1 L496.5,1271.1 Q496.5,1250.55 491.5,1230 L491.5,1120 Q496.5,1099.1 496.5,1078.2 Z" fill="#fff" stroke="#3a3a3a" stroke-width="2.2" stroke-linejoin="round"/>
<clipPath id="cp11"><path d="M511.53,1110.3 L514.7,1026.8 Q515.08,1016.8 524.7,1016.8 L573.3,1016.8 Q582.92,1016.8 583.3,1026.8 L586.47,1110.3 Z"/></clipPath>
<path d="M511.53,1110.3 L514.7,1026.8 Q515.08,1016.8 524.7,1016.8 L573.3,1016.8 Q582.92,1016.8 583.3,1026.8 L586.47,1110.3 Z" fill="#fff" stroke="#3a3a3a" stroke-width="2.2" stroke-linejoin="round"/>
<g clip-path="url(#cp11)"><line x1="0" y1="1097.5" x2="1233" y2="1097.5" stroke="#3a3a3a" stroke-width="2.2"/></g>
<clipPath id="cp12"><path d="M509.99,1239.7 L512.4,1315 Q512.4,1324 521.4,1324 L574.6,1324 Q583.6,1324 583.6,1315 L586.01,1239.7 Z"/></clipPath>
<path d="M509.99,1239.7 L512.4,1315 Q512.4,1324 521.4,1324 L574.6,1324 Q583.6,1324 583.6,1315 L586.01,1239.7 Z" fill="#fff" stroke="#3a3a3a" stroke-width="2.2" stroke-linejoin="round"/>
<g clip-path="url(#cp12)"><line x1="0" y1="1251.6" x2="1233" y2="1251.6" stroke="#3a3a3a" stroke-width="2.2"/></g>
<path d="M609.39,1130.72 L620.22,1124.47 L628.22,1138.33 L617.39,1144.58 Z" fill="#ececec" stroke="#3a3a3a" stroke-width="2.2" stroke-linejoin="round"/>
<path d="M620.18,1200.83 L632.42,1206.53 L626.67,1218.86 L614.43,1213.16 Z" fill="#f4f4f4" stroke="#3a3a3a" stroke-width="2.2" stroke-linejoin="round"/>
<line x1="618.74" y1="1203.91" x2="630.98" y2="1209.62" stroke="#3a3a3a" stroke-width="1.5"/>
<line x1="617.31" y1="1206.99" x2="629.54" y2="1212.7" stroke="#3a3a3a" stroke-width="1.5"/>
<line x1="615.87" y1="1210.07" x2="628.11" y2="1215.78" stroke="#3a3a3a" stroke-width="1.5"/>
<path d="M626.6,1163.5 Q626.6,1162 628.1,1162 L639.9,1162 Q646.2,1162 646.2,1168.3 L646.2,1182.3 Q646.2,1188.6 639.9,1188.6 L628.1,1188.6 Q626.6,1188.6 626.6,1187.1 Z" fill="#fff" stroke="#3a3a3a" stroke-width="1.8" stroke-linejoin="round"/>
<line x1="641.4" y1="1162.5" x2="641.4" y2="1188.1" stroke="#3a3a3a" stroke-width="1.5"/>
<line x1="626.6" y1="1165.8" x2="641.4" y2="1165.8" stroke="#3a3a3a" stroke-width="1.4"/>
<line x1="626.6" y1="1169.6" x2="641.4" y2="1169.6" stroke="#3a3a3a" stroke-width="1.4"/>
<line x1="626.6" y1="1173.4" x2="641.4" y2="1173.4" stroke="#3a3a3a" stroke-width="1.4"/>
<line x1="626.6" y1="1177.2" x2="641.4" y2="1177.2" stroke="#3a3a3a" stroke-width="1.4"/>
<line x1="626.6" y1="1181" x2="641.4" y2="1181" stroke="#3a3a3a" stroke-width="1.4"/>
<line x1="626.6" y1="1184.8" x2="641.4" y2="1184.8" stroke="#3a3a3a" stroke-width="1.4"/>
<circle cx="548.7" cy="1175" r="76.7" fill="#fff" stroke="#3a3a3a" stroke-width="2.2"/>
<circle cx="548.7" cy="1175" r="65.6" fill="#fff" stroke="#3a3a3a" stroke-width="2.2"/>
<text x="523.3" y="1180.5" font-family="Liberation Sans" font-size="17.4" fill="#2e2e2e" stroke="#2e2e2e" stroke-width="0.45">26</text>
<text x="576.9" y="1180.5" text-anchor="end" font-family="Liberation Sans" font-size="18.2" fill="#2e2e2e" stroke="#2e2e2e" stroke-width="0.45" textLength="31.4" lengthAdjust="spacingAndGlyphs">mm</text>
<path d="M776.5,1085.3 L871.2,1085.3 Q871.2,1104.15 875.5,1123 L875.5,1225.4 Q871.2,1244.15 871.2,1262.9 L776.5,1262.9 Q776.5,1244.15 772.2,1225.4 L772.2,1123 Q776.5,1104.15 776.5,1085.3 Z" fill="#fff" stroke="#3a3a3a" stroke-width="2.2" stroke-linejoin="round"/>
<clipPath id="cp13"><path d="M788.71,1115.4 L791.9,1026.8 Q792.26,1016.8 801.9,1016.8 L845.9,1016.8 Q855.54,1016.8 855.9,1026.8 L859.09,1115.4 Z"/></clipPath>
<path d="M788.71,1115.4 L791.9,1026.8 Q792.26,1016.8 801.9,1016.8 L845.9,1016.8 Q855.54,1016.8 855.9,1026.8 L859.09,1115.4 Z" fill="#fff" stroke="#3a3a3a" stroke-width="2.2" stroke-linejoin="round"/>
<g clip-path="url(#cp13)"><line x1="0" y1="1103.4" x2="1233" y2="1103.4" stroke="#3a3a3a" stroke-width="2.2"/></g>
<clipPath id="cp14"><path d="M789.51,1233 L791.8,1314.8 Q791.8,1323.8 800.8,1323.8 L848.6,1323.8 Q857.6,1323.8 857.6,1314.8 L859.89,1233 Z"/></clipPath>
<path d="M789.51,1233 L791.8,1314.8 Q791.8,1323.8 800.8,1323.8 L848.6,1323.8 Q857.6,1323.8 857.6,1314.8 L859.89,1233 Z" fill="#fff" stroke="#3a3a3a" stroke-width="2.2" stroke-linejoin="round"/>
<g clip-path="url(#cp14)"><line x1="0" y1="1245.6" x2="1233" y2="1245.6" stroke="#3a3a3a" stroke-width="2.2"/></g>
<path d="M879.99,1134.02 L889.61,1128.69 L897.18,1142.33 L887.56,1147.67 Z" fill="#ececec" stroke="#3a3a3a" stroke-width="2.2" stroke-linejoin="round"/>
<path d="M889.68,1197.38 L900.65,1202.26 L896.01,1212.68 L885.05,1207.8 Z" fill="#f4f4f4" stroke="#3a3a3a" stroke-width="2.2" stroke-linejoin="round"/>
<line x1="888.52" y1="1199.99" x2="899.49" y2="1204.87" stroke="#3a3a3a" stroke-width="1.5"/>
<line x1="887.37" y1="1202.59" x2="898.33" y2="1207.47" stroke="#3a3a3a" stroke-width="1.5"/>
<line x1="886.21" y1="1205.19" x2="897.17" y2="1210.07" stroke="#3a3a3a" stroke-width="1.5"/>
<path d="M896.6,1164.8 Q896.6,1163.3 898.1,1163.3 L909.1,1163.3 Q913.7,1163.3 913.7,1167.9 L913.7,1181.3 Q913.7,1185.9 909.1,1185.9 L898.1,1185.9 Q896.6,1185.9 896.6,1184.4 Z" fill="#fff" stroke="#3a3a3a" stroke-width="1.8" stroke-linejoin="round"/>
<line x1="910.6" y1="1163.8" x2="910.6" y2="1185.4" stroke="#3a3a3a" stroke-width="1.5"/>
<line x1="896.6" y1="1167.07" x2="910.6" y2="1167.07" stroke="#3a3a3a" stroke-width="1.4"/>
<line x1="896.6" y1="1170.83" x2="910.6" y2="1170.83" stroke="#3a3a3a" stroke-width="1.4"/>
<line x1="896.6" y1="1174.6" x2="910.6" y2="1174.6" stroke="#3a3a3a" stroke-width="1.4"/>
<line x1="896.6" y1="1178.37" x2="910.6" y2="1178.37" stroke="#3a3a3a" stroke-width="1.4"/>
<line x1="896.6" y1="1182.13" x2="910.6" y2="1182.13" stroke="#3a3a3a" stroke-width="1.4"/>
<circle cx="823.6" cy="1174.2" r="70.8" fill="#fff" stroke="#3a3a3a" stroke-width="2.2"/>
<circle cx="823.6" cy="1174.2" r="60.1" fill="#fff" stroke="#3a3a3a" stroke-width="2.2"/>
<text x="797.7" y="1180.5" font-family="Liberation Sans" font-size="17.4" fill="#2e2e2e" stroke="#2e2e2e" stroke-width="0.45">24</text>
<text x="851.9" y="1180.5" text-anchor="end" font-family="Liberation Sans" font-size="18.2" fill="#2e2e2e" stroke="#2e2e2e" stroke-width="0.45" textLength="31.4" lengthAdjust="spacingAndGlyphs">mm</text>
<path d="M1048.3,1091.1 L1135.6,1091.1 Q1135.6,1106.8 1139.1,1122.5 L1139.1,1219.9 Q1135.6,1237 1135.6,1254.1 L1048.3,1254.1 Q1048.3,1237 1044.8,1219.9 L1044.8,1122.5 Q1048.3,1106.8 1048.3,1091.1 Z" fill="#fff" stroke="#3a3a3a" stroke-width="2.2" stroke-linejoin="round"/>
<clipPath id="cp15"><path d="M1059.82,1118.2 L1062.2,1026.8 Q1062.46,1016.8 1072.2,1016.8 L1112.8,1016.8 Q1122.54,1016.8 1122.8,1026.8 L1125.18,1118.2 Z"/></clipPath>
<path d="M1059.82,1118.2 L1062.2,1026.8 Q1062.46,1016.8 1072.2,1016.8 L1112.8,1016.8 Q1122.54,1016.8 1122.8,1026.8 L1125.18,1118.2 Z" fill="#fff" stroke="#3a3a3a" stroke-width="2.2" stroke-linejoin="round"/>
<g clip-path="url(#cp15)"><line x1="0" y1="1105" x2="1233" y2="1105" stroke="#3a3a3a" stroke-width="2.2"/></g>
<clipPath id="cp16"><path d="M1059.1,1224.2 L1061.2,1315.3 Q1061.2,1324.3 1070.2,1324.3 L1113.4,1324.3 Q1122.4,1324.3 1122.4,1315.3 L1124.5,1224.2 Z"/></clipPath>
<path d="M1059.1,1224.2 L1061.2,1315.3 Q1061.2,1324.3 1070.2,1324.3 L1113.4,1324.3 Q1122.4,1324.3 1122.4,1315.3 L1124.5,1224.2 Z" fill="#fff" stroke="#3a3a3a" stroke-width="2.2" stroke-linejoin="round"/>
<g clip-path="url(#cp16)"><line x1="0" y1="1237.3" x2="1233" y2="1237.3" stroke="#3a3a3a" stroke-width="2.2"/></g>
<path d="M1144.01,1136.33 L1152.84,1131.63 L1158.47,1142.23 L1149.64,1146.92 Z" fill="#ececec" stroke="#3a3a3a" stroke-width="2.2" stroke-linejoin="round"/>
<path d="M1151.53,1193.26 L1161.95,1198.12 L1157.3,1208.09 L1146.88,1203.23 Z" fill="#f4f4f4" stroke="#3a3a3a" stroke-width="2.2" stroke-linejoin="round"/>
<line x1="1150.37" y1="1195.76" x2="1160.79" y2="1200.62" stroke="#3a3a3a" stroke-width="1.5"/>
<line x1="1149.2" y1="1198.25" x2="1159.63" y2="1203.11" stroke="#3a3a3a" stroke-width="1.5"/>
<line x1="1148.04" y1="1200.74" x2="1158.46" y2="1205.6" stroke="#3a3a3a" stroke-width="1.5"/>
<path d="M1157.1,1162.5 Q1157.1,1161 1158.6,1161 L1166.4,1161 Q1172,1161 1172,1166.6 L1172,1176.2 Q1172,1181.8 1166.4,1181.8 L1158.6,1181.8 Q1157.1,1181.8 1157.1,1180.3 Z" fill="#fff" stroke="#3a3a3a" stroke-width="1.8" stroke-linejoin="round"/>
<line x1="1167.9" y1="1161.5" x2="1167.9" y2="1181.3" stroke="#3a3a3a" stroke-width="1.5"/>
<line x1="1157.1" y1="1164.47" x2="1167.9" y2="1164.47" stroke="#3a3a3a" stroke-width="1.4"/>
<line x1="1157.1" y1="1167.93" x2="1167.9" y2="1167.93" stroke="#3a3a3a" stroke-width="1.4"/>
<line x1="1157.1" y1="1171.4" x2="1167.9" y2="1171.4" stroke="#3a3a3a" stroke-width="1.4"/>
<line x1="1157.1" y1="1174.87" x2="1167.9" y2="1174.87" stroke="#3a3a3a" stroke-width="1.4"/>
<line x1="1157.1" y1="1178.33" x2="1167.9" y2="1178.33" stroke="#3a3a3a" stroke-width="1.4"/>
<circle cx="1091.2" cy="1171.2" r="65" fill="#fff" stroke="#3a3a3a" stroke-width="2.2"/>
<circle cx="1091.2" cy="1171.2" r="55.1" fill="#fff" stroke="#3a3a3a" stroke-width="2.2"/>
<text x="1064.6" y="1180.5" font-family="Liberation Sans" font-size="17.4" fill="#2e2e2e" stroke="#2e2e2e" stroke-width="0.45">22</text>
<text x="1118.8" y="1180.5" text-anchor="end" font-family="Liberation Sans" font-size="18.2" fill="#2e2e2e" stroke="#2e2e2e" stroke-width="0.45" textLength="31.4" lengthAdjust="spacingAndGlyphs">mm</text>
</svg>
</body></html>
